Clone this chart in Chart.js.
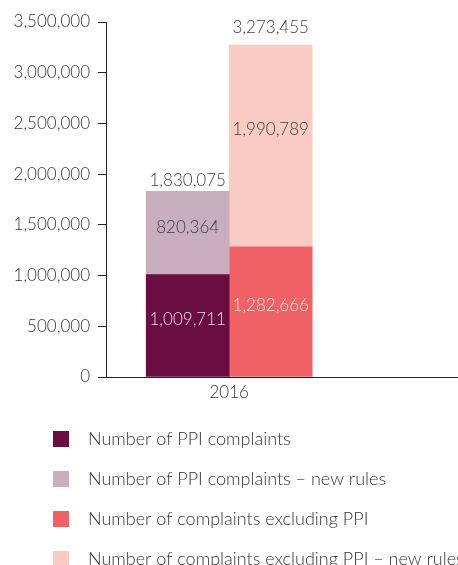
<!DOCTYPE html>
<html>
<head>
<meta charset="utf-8">
<script src="https://cdn.jsdelivr.net/npm/chart.js@4/dist/chart.umd.min.js"></script>
<style>
  html, body { margin: 0; padding: 0; background: #fff; }
</style>
</head>
<body>
<canvas id="complaintsChart" width="458" height="565"></canvas>
<script>
// category slots on the x axis; 2016 is the only one with data
const xSlots = ['', '', '', '2016', '', '', '', '', '', ''];
const years = ['2016'];

const seriesNames = [
  'Number of PPI complaints',
  'Number of PPI complaints – new rules',
  'Number of complaints excluding PPI',
  'Number of complaints excluding PPI – new rules'
];
const ppiComplaints = [1009711];
const ppiNewRules = [820364];
const otherComplaints = [1282666];
const otherNewRules = [1990789];

const fmt = n => String(n).replace(/\B(?=(\d{3})+(?!\d))/g, ',');
const textFont = { family: 'Lato', size: 17, weight: 300 };

// legend swatch: 16px square sitting inside a wider transparent box
function swatch(color) {
  const c = document.createElement('canvas');
  c.width = 57;
  c.height = 16;
  const g = c.getContext('2d');
  g.fillStyle = color;
  g.fillRect(31, 0, 16, 16);
  return c;
}

const toPoints = arr => arr.map((v, i) => ({ x: years[i], y: v }));

// value labels inside the bars and totals above each stack
const valueLabels = {
  id: 'valueLabels',
  afterDatasetsDraw(chart) {
    const ctx = chart.ctx;
    ctx.save();
    ctx.font = '300 17px Lato';
    ctx.textAlign = 'center';
    ctx.textBaseline = 'middle';
    const totals = {};
    chart.data.datasets.forEach((ds, i) => {
      chart.getDatasetMeta(i).data.forEach((bar, j) => {
        const v = ds.data[j].y;
        ctx.fillStyle = ds.labelColor;
        ctx.fillText(fmt(v), bar.x, (bar.y + bar.base) / 2 + ds.labelDy);
        const t = totals[ds.stack] || (totals[ds.stack] = { x: bar.x, y: bar.y, sum: 0, dy: ds.totalDy });
        t.sum += v;
        t.y = Math.min(t.y, bar.y);
      });
    });
    ctx.fillStyle = '#3d3d3d';
    Object.values(totals).forEach(t => ctx.fillText(fmt(t.sum), t.x, t.y + t.dy));
    ctx.restore();
  }
};

new Chart(document.getElementById('complaintsChart'), {
  type: 'bar',
  plugins: [valueLabels],
  data: {
    labels: xSlots,
    datasets: [
      { label: seriesNames[0], data: toPoints(ppiComplaints), stack: 'ppi', backgroundColor: '#690d43', labelColor: '#eedbe5', labelDy: -6, totalDy: -11 },
      { label: seriesNames[1], data: toPoints(ppiNewRules), stack: 'ppi', backgroundColor: '#c9afbd', labelColor: '#3d3d3d', labelDy: -5, totalDy: -11 },
      { label: seriesNames[2], data: toPoints(otherComplaints), stack: 'other', backgroundColor: '#f06166', labelColor: '#fde3df', labelDy: -6, totalDy: -17 },
      { label: seriesNames[3], data: toPoints(otherNewRules), stack: 'other', backgroundColor: '#facbc3', labelColor: '#3d3d3d', labelDy: -16, totalDy: -17 }
    ]
  },
  options: {
    responsive: false,
    animation: false,
    devicePixelRatio: 1,
    barThickness: 83,
    layout: { padding: { top: 22, right: 0, bottom: -13, left: 0 } },
    plugins: {
      tooltip: { enabled: false },
      legend: {
        position: 'bottom',
        align: 'start',
        labels: {
          usePointStyle: true,
          pointStyleWidth: 57,
          padding: 22,
          color: '#333',
          font: { family: 'Lato', size: 18, weight: 300 },
          generateLabels(chart) {
            return Chart.defaults.plugins.legend.labels.generateLabels(chart)
              .map(item => ({ ...item, pointStyle: swatch(item.fillStyle) }));
          }
        }
      }
    },
    scales: {
      x: {
        stacked: true,
        grid: { display: false, drawTicks: false },
        border: { display: true, color: '#222', width: 1 },
        ticks: { autoSkip: false, maxRotation: 0, padding: 5, color: '#333', font: textFont },
        afterFit(scale) { scale.height = 31; }
      },
      y: {
        stacked: true,
        min: 0,
        max: 3500000,
        grid: { drawOnChartArea: false, drawTicks: true, tickLength: 8, color: '#222' },
        border: { display: true, color: '#222', width: 1 },
        ticks: { stepSize: 500000, padding: 8, color: '#333', font: textFont, callback: v => fmt(v) },
        afterFit(scale) {
          scale.width = 106;
          scale.paddingTop = 0;
          scale.paddingBottom = 0;
        }
      }
    }
  }
});
</script>
</body>
</html>
